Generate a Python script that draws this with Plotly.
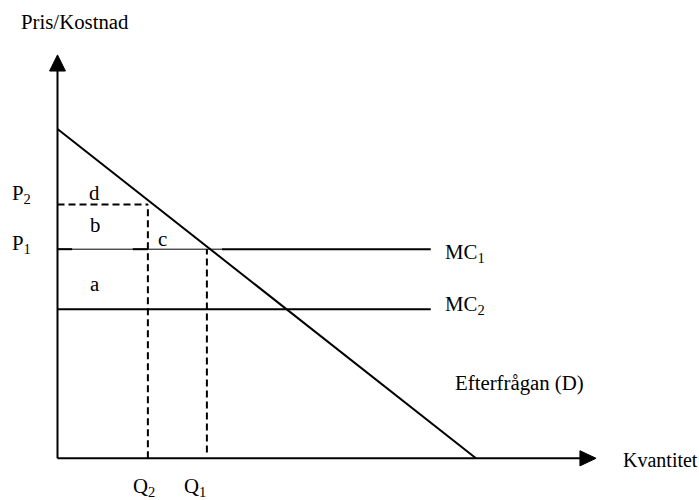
import plotly.graph_objects as go

# ---- data (economic units) ----
demand_q = [0, 10.0]          # demand line endpoints (quantity)
demand_p = [10.0, 0]          # demand line endpoints (price)
P1 = 6.35
P2 = 7.71
MC2 = 4.53
Q1 = 3.57
Q2 = 2.16
MC_end = 8.92
Q_axis_end = 12.87
P_axis_end = 12.25
mc1_thin = [0, 3.93]
mc1_thick_segments = [[0, 0.35], [1.80, Q2], [3.93, MC_end]]

FONT = "Liberation Serif, Times New Roman, serif"
FS = 20.8
BLACK = "black"

fig = go.Figure()

def seg(x, y, width=2, dash=None):
    fig.add_trace(go.Scatter(x=x, y=y, mode="lines",
                             line=dict(color=BLACK, width=width, dash=dash),
                             hoverinfo="skip", showlegend=False))

# axes
y_arrow_base = P_axis_end - 0.49
x_arrow_base = Q_axis_end - 0.385
seg([0, 0], [0, y_arrow_base])
seg([0, x_arrow_base], [0, 0])
# arrowheads
fig.add_trace(go.Scatter(x=[-0.19, 0.19, 0, -0.19], y=[y_arrow_base, y_arrow_base, P_axis_end, y_arrow_base],
                         mode="lines", fill="toself", fillcolor=BLACK, line=dict(color=BLACK, width=1),
                         hoverinfo="skip", showlegend=False))
fig.add_trace(go.Scatter(x=[x_arrow_base, x_arrow_base, Q_axis_end, x_arrow_base], y=[-0.23, 0.23, 0, -0.23],
                         mode="lines", fill="toself", fillcolor=BLACK, line=dict(color=BLACK, width=1),
                         hoverinfo="skip", showlegend=False))

# demand
seg(demand_q, demand_p)
# MC1 (thin + thick pieces)
seg(mc1_thin, [P1, P1], width=1)
for a, b in mc1_thick_segments:
    seg([a, b], [P1, P1])
# MC2
seg([0, MC_end], [MC2, MC2])
# dashed lines
seg([0, Q2], [P2, P2], dash="7px,4px")
seg([Q2, Q2], [0, P2], dash="7px,4px")
seg([Q1, Q1], [0.18, P1], dash="7px,4px")

def label(text, x, y, xanchor="left", size=FS):
    fig.add_annotation(x=x, y=y, text=text, showarrow=False, xanchor=xanchor, yanchor="middle",
                       font=dict(family=FONT, size=size, color=BLACK))

label("Pris/Kostnad", -0.93, 13.25)
label("P<sub>2</sub>", -1.135, P2 + 0.33)
label("P<sub>1</sub>", -1.135, P1 + 0.15)
label("d", 0.896, 8.06, "center")
label("b", 0.896, 7.09, "center")
label("c", 2.52, 6.66, "center")
label("a", 0.896, 5.30, "center")
label("MC<sub>1</sub>", 9.21, P1 - 0.12)
label("MC<sub>2</sub>", 9.21, MC2 + 0.12)
label("Efterfrågan (D)", 9.45, 2.29)
label("Kvantitet", 13.47, -0.05, size=20)
label("Q<sub>2</sub>", Q2 - 0.40, -0.88)
label("Q<sub>1</sub>", Q1 - 0.6, -0.88)

fig.update_layout(
    width=699, height=500, autosize=False,
    margin=dict(l=0, r=0, t=0, b=0),
    paper_bgcolor="white", plot_bgcolor="white",
    xaxis=dict(range=[-1.374, 15.33], visible=False, fixedrange=True),
    yaxis=dict(range=[-1.266, 13.917], visible=False, fixedrange=True),
    showlegend=False,
)
fig.write_html("out.html", config={"displayModeBar": False},
               post_script="document.body.style.margin='0';document.body.style.overflow='hidden';")
